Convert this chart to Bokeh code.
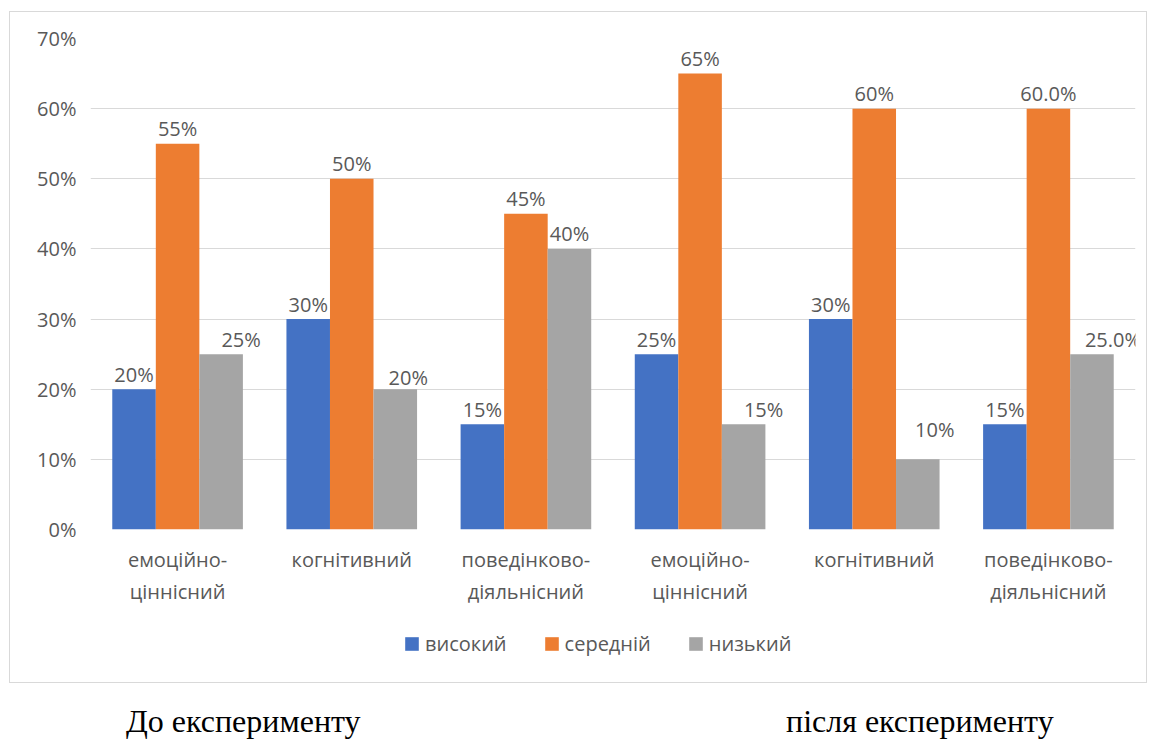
from bokeh.plotting import figure
from bokeh.models import (FactorRange, Range1d, FixedTicker, NumeralTickFormatter,
                          ColumnDataSource, Legend, LegendItem, Div, Spacer)
from bokeh.layouts import column, row
from bokeh.transform import dodge
from bokeh.core.properties import value
from bokeh.embed import file_html
from bokeh.resources import INLINE

# ---- data ----
periods = ["До експерименту"] * 3 + ["після експерименту"] * 3
categories = ["емоційно-\nціннісний", "когнітивний", "поведінково-\nдіяльнісний",
              "емоційно-\nціннісний", "когнітивний", "поведінково-\nдіяльнісний"]
series = ["високий", "середній", "низький"]
high = [0.20, 0.30, 0.15, 0.25, 0.30, 0.15]
mid = [0.55, 0.50, 0.45, 0.65, 0.60, 0.60]
low = [0.25, 0.20, 0.40, 0.15, 0.10, 0.25]
high_labels = ["20%", "30%", "15%", "25%", "30%", "15%"]
mid_labels = ["55%", "50%", "45%", "65%", "60%", "60.0%"]
low_labels = ["25%", "20%", "40%", "15%", "10%", "25.0%"]
y_ticks = [0, 0.1, 0.2, 0.3, 0.4, 0.5, 0.6, 0.7]
captions = ["До експерименту", "після експерименту"]

# label nudges (pixels), style only
low_dx = [20, 13, 0, 20, 17, 21]
low_dy = [0, 3, 0, 0, -15, 0]
LABEL_GAP = -15

colors = ["#4472C4", "#ED7D31", "#A5A5A5"]
FONT = "Open Sans"
TXT = "#595959"

factors = list(zip(periods, categories))
src = ColumnDataSource(dict(x=factors, high=high, mid=mid, low=low,
                            hl=high_labels, ml=mid_labels, ll=low_labels,
                            ldx=low_dx, ldy=[d + LABEL_GAP for d in low_dy]))

p = figure(width=1136, height=612,
           x_range=FactorRange(*factors, group_padding=0, factor_padding=0, range_padding=0),
           y_range=Range1d(0, 0.7),
           output_backend="svg", toolbar_location=None,
           min_border_left=80, min_border_right=11, min_border_top=26, min_border_bottom=95)
p.outline_line_color = None
p.background_fill_color = "white"
p.border_fill_color = "white"

w = 0.25
offs = [-0.25, 0.0, 0.25]
cols = ["high", "mid", "low"]
for c, o, col in zip(cols, offs, colors):
    p.vbar(x=dodge("x", o, range=p.x_range), top=c, width=w, source=src,
           fill_color=col, line_color=None)

p.text(x=dodge("x", -0.25, range=p.x_range), y="high", text="hl", source=src,
       text_font=value(FONT), text_font_size="20px", text_color=TXT,
       text_align="center", text_baseline="alphabetic", y_offset=LABEL_GAP)
p.text(x=dodge("x", 0.0, range=p.x_range), y="mid", text="ml", source=src,
       text_font=value(FONT), text_font_size="20px", text_color=TXT,
       text_align="center", text_baseline="alphabetic", y_offset=LABEL_GAP)
p.text(x=dodge("x", 0.25, range=p.x_range), y="low", text="ll", source=src,
       text_font=value(FONT), text_font_size="20px", text_color=TXT,
       text_align="center", text_baseline="alphabetic", x_offset="ldx", y_offset="ldy")

# axes
p.yaxis.ticker = FixedTicker(ticks=y_ticks)
p.yaxis.formatter = NumeralTickFormatter(format="0%")
p.yaxis.axis_line_color = None
p.yaxis.major_tick_line_color = None
p.yaxis.minor_tick_line_color = None
p.yaxis.major_tick_out = 0
p.yaxis.minor_tick_out = 0
p.yaxis.major_label_standoff = 14
p.yaxis.major_label_text_font = FONT
p.yaxis.major_label_text_font_size = "20px"
p.yaxis.major_label_text_color = TXT

p.xaxis.axis_line_color = None
p.xaxis.major_tick_line_color = None
p.xaxis.major_tick_out = 0
p.xaxis.major_label_standoff = 16
p.xaxis.major_label_text_font = FONT
p.xaxis.major_label_text_font_size = "20px"
p.xaxis.major_label_text_color = TXT
p.xaxis.major_label_orientation = "horizontal"
p.xaxis.group_text_font_size = "0px"
p.xaxis.group_text_color = None
p.xaxis.separator_line_color = None

p.xgrid.grid_line_color = None
p.ygrid.grid_line_color = "#d9d9d9"
p.ygrid.grid_line_width = 1

# legend strip (inside the same chart box)
lp = figure(width=1136, height=58, x_range=Range1d(0, 1), y_range=Range1d(0, 1),
            x_axis_type=None, y_axis_type=None, output_backend="svg",
            toolbar_location=None, min_border=0)
lp.outline_line_color = None
lp.grid.visible = False
lp.background_fill_color = "white"
lp.border_fill_color = "white"
# swatch renderers sit outside the visible range; only their legend entries show
swatch_src = ColumnDataSource(dict(x=[-5], top=[-5]))
swatches = [lp.vbar(x="x", top="top", width=0.1, source=swatch_src,
                    fill_color=col, line_color=None) for col in colors]
lg = Legend(items=[LegendItem(label=s, renderers=[r]) for s, r in zip(series, swatches)],
            orientation="horizontal", location=(313, 25), margin=0, padding=0,
            spacing=36, glyph_width=17, glyph_height=17, label_standoff=5,
            label_text_font=FONT, label_text_font_size="20px", label_text_color=TXT,
            border_line_color=None, background_fill_alpha=0)
lp.add_layout(lg)

box = column(p, lp, spacing=0, margin=0, styles={"border": "1px solid #d9d9d9"})

# captions below the chart box
cap_html = ('<div style="position:relative;width:1140px;height:55px;'
            'font-family:\'Liberation Serif\';font-size:32px;line-height:32px;color:black">'
            '<span style="position:absolute;left:126px;top:22px;white-space:nowrap">%s</span>'
            '<span style="position:absolute;left:786px;top:22px;white-space:nowrap">%s</span>'
            '</div>') % (captions[0], captions[1])
cap = Div(text=cap_html, width=1140, height=55, margin=0)

layout = column(Spacer(height=11, margin=0),
                row(Spacer(width=9, margin=0), box, margin=0),
                cap, margin=0, spacing=0)

open("out.html", "w").write(file_html(layout, INLINE))
